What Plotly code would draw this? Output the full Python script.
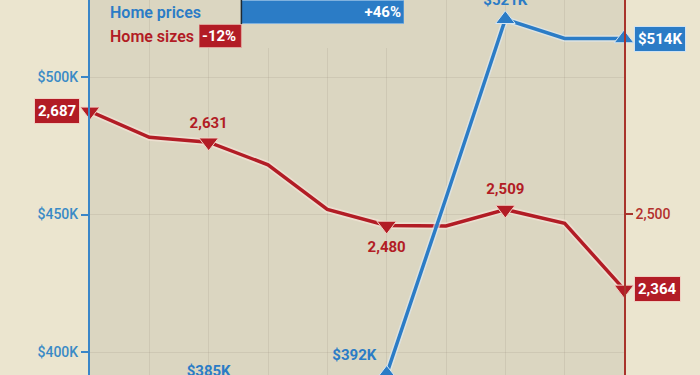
import plotly.graph_objects as go

# ---------------- data ----------------
years = list(range(2015, 2025))  # x categories (tick labels not visible in the crop)
home_prices_k = [352, 368, 385, 378, 380, 392, 456, 521, 514, 514]
home_sizes_sqft = [2687, 2640, 2631, 2590, 2509, 2480, 2479, 2509, 2484, 2364]
size_marker_idx = [0, 2, 5, 7, 9]
size_text_idx = [2, 5, 7]
price_marker_idx = [2, 5, 7, 9]
price_text_idx = [2, 5, 7]
legend_names = ["Home prices", "Home sizes"]
legend_changes = [46, -12]
price_ticks = [400, 450, 500]
size_ticks = [2500]

# ---------------- style ----------------
RED = "#b21c25"
BLUE = "#2b7cc6"
FONT = "Roboto"
PAPER = "#ebe5cf"
PLOTBG = "#dbd6c1"
GRID = "rgba(140,130,110,0.16)"
PRICE_RANGE = [391.64, 528.0]
size_text_pos = ["top center", "bottom center", "top center"]
size_text_pad = [15, 23, 17]
price_text_pos = ["top center", "top left", "top center"]
price_text_pad = [20, 15, 15]

fig = go.Figure()

# Home sizes (right axis) - drawn first so blue sits on top
fig.add_trace(go.Scatter(x=years, y=home_sizes_sqft, mode="lines",
                         line=dict(color="rgba(244,226,214,0.7)", width=7),
                         xaxis="x", yaxis="y", hoverinfo="skip"))
fig.add_trace(go.Scatter(x=years, y=home_sizes_sqft, mode="lines",
                         line=dict(color=RED, width=3.5), xaxis="x", yaxis="y"))
fig.add_trace(go.Scatter(
    x=[years[i] for i in size_marker_idx],
    y=[home_sizes_sqft[i] for i in size_marker_idx],
    mode="markers",
    marker=dict(symbol="triangle-down", size=17, color=RED,
                line=dict(color="#f0d4c6", width=1)),
    cliponaxis=False, xaxis="x", yaxis="y"))
fig.add_trace(go.Scatter(
    x=[years[i] for i in size_text_idx],
    y=[home_sizes_sqft[i] for i in size_text_idx],
    mode="markers+text",
    marker=dict(size=size_text_pad, opacity=0),
    text=[f"{home_sizes_sqft[i]:,}" for i in size_text_idx],
    textposition=size_text_pos,
    textfont=dict(family=FONT, size=15, color=RED, weight=700),
    cliponaxis=False, xaxis="x", yaxis="y", hoverinfo="skip"))

# Home prices (left axis)
fig.add_trace(go.Scatter(x=years, y=home_prices_k, mode="lines",
                         line=dict(color="rgba(222,234,242,0.65)", width=6.5),
                         xaxis="x", yaxis="y2", hoverinfo="skip"))
fig.add_trace(go.Scatter(x=years, y=home_prices_k, mode="lines",
                         line=dict(color=BLUE, width=3.5), xaxis="x", yaxis="y2"))
fig.add_trace(go.Scatter(
    x=[years[i] for i in price_marker_idx],
    y=[home_prices_k[i] for i in price_marker_idx],
    mode="markers",
    marker=dict(symbol="triangle-up", size=17, color=BLUE,
                line=dict(color="#d6e6f2", width=1)),
    cliponaxis=False, xaxis="x", yaxis="y2"))
# price labels live on a twin axis with clipping on, so labels of points just
# below the visible range are still drawn (clipped) instead of hidden
fig.add_trace(go.Scatter(
    x=[years[i] for i in price_text_idx],
    y=[home_prices_k[i] for i in price_text_idx],
    mode="markers+text",
    marker=dict(size=price_text_pad, opacity=0),
    text=[f"${home_prices_k[i]}K" for i in price_text_idx],
    textposition=price_text_pos,
    textfont=dict(family=FONT, size=15, color=BLUE, weight=700),
    cliponaxis=True, xaxis="x", yaxis="y4", hoverinfo="skip"))

# Legend bars (percent change)
fig.add_trace(go.Bar(
    x=legend_changes, y=legend_names, orientation="h", xaxis="x2", yaxis="y3",
    marker=dict(color=[BLUE, RED], line=dict(color=["#7fb1df", "#e0a49c"], width=1)),
    text=[f"{v:+d}%" for v in legend_changes],
    textposition="inside", insidetextanchor="end", constraintext="none",
    textfont=dict(family=FONT, size=15, color="white", weight=700),
    width=0.96))

# zero line of the legend bars
fig.add_shape(type="line", xref="x2", yref="y3", x0=0, x1=0, y0=0.5, y1=1.5,
              line=dict(color="#1f2a33", width=1.5))

# legend labels
for name, col in zip(legend_names, [BLUE, RED]):
    fig.add_annotation(xref="paper", yref="y3", x=108 / 700, y=name, text=name,
                       showarrow=False, xanchor="left", yanchor="middle",
                       font=dict(family=FONT, size=16, color=col, weight=600))

# boxed end labels
box_font = dict(family=FONT, size=15, color="white", weight=700)
fig.add_annotation(x=years[0], y=home_sizes_sqft[0], xref="x", yref="y",
                   text=f"{home_sizes_sqft[0]:,}", showarrow=False, xanchor="right",
                   xshift=-10, bgcolor=RED, bordercolor="#f0cfc2", borderwidth=1,
                   borderpad=3, font=box_font)
fig.add_annotation(x=years[-1], y=home_sizes_sqft[-1], xref="x", yref="y",
                   text=f"{home_sizes_sqft[-1]:,}", showarrow=False, xanchor="left",
                   xshift=10, bgcolor=RED, bordercolor="#f0cfc2", borderwidth=1,
                   borderpad=3, font=box_font)
fig.add_annotation(x=years[-1], y=home_prices_k[-1], xref="x", yref="y2",
                   text=f"${home_prices_k[-1]}K", showarrow=False, xanchor="left",
                   xshift=10, bgcolor=BLUE, bordercolor="#cfe2f2", borderwidth=1,
                   borderpad=3, font=box_font)

fig.update_layout(
    width=700, height=375, margin=dict(l=0, r=0, t=0, b=0),
    paper_bgcolor=PAPER, plot_bgcolor=PLOTBG, showlegend=False,
    font=dict(family=FONT),
    xaxis=dict(domain=[90 / 700, 624 / 700], range=[years[0], years[-1]],
               showticklabels=False, ticks="", dtick=1, showgrid=True,
               gridcolor=GRID, gridwidth=1, zeroline=False, anchor="y"),
    yaxis=dict(side="right", anchor="x", range=[2208.7, 2889], tickvals=size_ticks,
               ticktext=[f"{v:,}" for v in size_ticks],
               showline=True, linecolor="#a8342c", linewidth=1.5,
               ticks="outside", ticklen=7, tickwidth=1.5, tickcolor="#a8342c",
               tickfont=dict(family=FONT, size=14, color="#b3302d", weight=500),
               showgrid=False, zeroline=False),
    yaxis2=dict(overlaying="y", side="left", anchor="x", range=PRICE_RANGE,
                tickvals=price_ticks, ticktext=[f"${v}K" for v in price_ticks],
                showline=True, linecolor="#3a86c8", linewidth=2,
                ticks="outside", ticklen=7, tickwidth=1.5, tickcolor="#3a86c8",
                tickfont=dict(family=FONT, size=14, color="#3a8ac6", weight=500),
                showgrid=True, gridcolor=GRID, zeroline=False),
    yaxis4=dict(overlaying="y", side="left", anchor="x", range=PRICE_RANGE,
                visible=False),
    xaxis2=dict(domain=[199 / 700, 404 / 700], range=[-12, 46], anchor="y3",
                visible=False),
    yaxis3=dict(domain=[1 - 48 / 375, 1], anchor="x2", range=[-0.5, 1.5],
                categoryorder="array", categoryarray=legend_names[::-1],
                visible=False),
)

fig.write_html("out.html")
